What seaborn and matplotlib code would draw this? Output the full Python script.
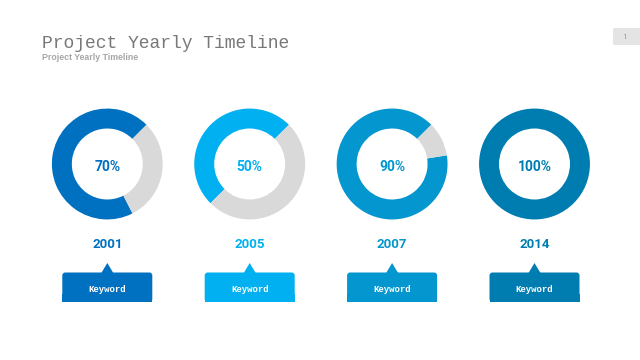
import matplotlib
matplotlib.use("Agg")
import matplotlib.pyplot as plt
import seaborn as sns
from matplotlib.patches import FancyBboxPatch, Rectangle, Polygon

# chart data
years = ["2001", "2005", "2007", "2014"]
percents = [70, 50, 90, 100]
keywords = ["Keyword", "Keyword", "Keyword", "Keyword"]
colors = ["#0070C0", "#00B0F0", "#0396CF", "#007DB0"]
rest_color = "#D9D9D9"

title = "Project Yearly Timeline"
subtitle = "Project Yearly Timeline"
page_no = "1"

sns.set_theme(style="white")
plt.rcParams["font.family"] = ["Roboto", "DejaVu Sans"]

W, H = 640, 360
fig = plt.figure(figsize=(6.4, 3.6), dpi=100)
fig.patch.set_facecolor("white")
ax = fig.add_axes([0, 0, 1, 1])
ax.set_xlim(0, W)
ax.set_ylim(H, 0)
ax.axis("off")

# layout
x0, step = 107.3, 142.4
cy, r = 164, 56
year_y, box_top, box_bot, box_w = 245, 272.5, 302, 90

# title block
ax.text(42, 48, title, fontsize=13, family="Liberation Mono", color="#787878",
        fontweight="medium", va="baseline", ha="left")
ax.text(42, 60, subtitle, fontsize=6.3, family="Liberation Sans", color="#A6A6A6",
        fontweight="bold", va="baseline", ha="left")

# page number tag
ax.add_patch(FancyBboxPatch((613, 28), 40, 17, boxstyle="round,pad=0,rounding_size=2",
                            facecolor="#E4E4E4", edgecolor="none"))
ax.text(625, 37, page_no, fontsize=6, color="#9A9A9A", ha="center", va="center")

for i, (yr, pct, kw, c) in enumerate(zip(years, percents, keywords, colors)):
    cx = x0 + i * step

    # donut
    pax = fig.add_axes([(cx - r) / W, 1 - (cy + r) / H, 2 * r / W, 2 * r / H])
    vals = [pct, 100 - pct] if pct < 100 else [pct]
    pax.pie(vals, colors=[c, rest_color], startangle=45, counterclock=True,
            wedgeprops=dict(width=0.36, linewidth=0))
    pax.set_aspect("equal")
    pax.set_xlim(-1.01, 1.01)
    pax.set_ylim(-1.01, 1.01)
    pax.axis("off")

    ax.text(cx, cy + 3, f"{pct}%", fontsize=10, fontweight="bold", color=c,
            ha="center", va="center", zorder=5)
    ax.text(cx, year_y, yr, fontsize=9.5, fontweight="bold", color=c,
            ha="center", va="center")

    # keyword callout
    left = cx - box_w / 2
    ax.add_patch(FancyBboxPatch((left, box_top), box_w, box_bot - box_top,
                                boxstyle="round,pad=0,rounding_size=3",
                                facecolor=c, edgecolor="none"))
    ax.add_patch(Rectangle((left, box_bot - 8), box_w, 8, facecolor=c, edgecolor="none"))
    ax.add_patch(Polygon([[cx - 6, box_top + 0.5], [cx, box_top - 9.5], [cx + 6, box_top + 0.5]],
                         closed=True, facecolor=c, edgecolor="none"))
    ax.text(cx, 290, kw, fontsize=6.5, family="Liberation Mono", fontweight="bold",
            color="white", ha="center", va="center")

fig.savefig("out.png", dpi=100, facecolor="white")
